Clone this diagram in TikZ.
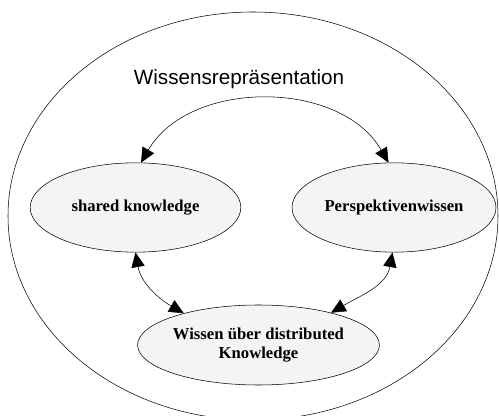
\documentclass[tikz,border=0pt]{standalone}
\usepackage{fontspec}
\setmainfont{Liberation Serif}
\newfontfamily\arialfont{Liberation Sans}
\usetikzlibrary{arrows.meta,shapes.geometric,positioning}
\definecolor{nodegray}{HTML}{F4F4F4}
\tikzset{
    knowledge/.style={ellipse, draw, fill=nodegray, inner sep=0pt,
        font=\fontsize{12.5}{14.5}\selectfont\bfseries, align=center},
    dblarrow/.style={{Triangle[length=11pt,width=10pt]}-{Triangle[length=11pt,width=10pt]}}
}

\begin{document}
\begin{tikzpicture}[x=0.75pt,y=-0.75pt]
    \useasboundingbox (0,0) rectangle (499,416);
    \clip (0,0) rectangle (499,416);

    % Draw outer ellipse.
    \draw (253,216) ellipse [x radius=245, y radius=204];
    \node[font=\arialfont\fontsize{15.5}{18}\selectfont] (title) at (239,79) {Wissensrepräsentation};

    % Draw knowledge nodes.
    \node[knowledge, minimum width=158pt, minimum height=67pt] (shared) at (135.5,207.5) {shared knowledge};
    \node[knowledge, minimum width=153pt, minimum height=67pt] (persp) at (394,207.5) {Perspektivenwissen};
    \node[knowledge, minimum width=139pt, minimum height=60pt] (wissen) at (258.5,345) {Wissen über distributed\\Knowledge};

    % Draw connections.
    \draw[dblarrow] (shared.83) to[out=60,in=120] (persp.97);
    \draw[dblarrow] (shared.south) to[out=-80,in=150] (wissen.157);
    \draw[dblarrow] (persp.268) to[out=-100,in=30] (wissen.24);
\end{tikzpicture}
\end{document}
